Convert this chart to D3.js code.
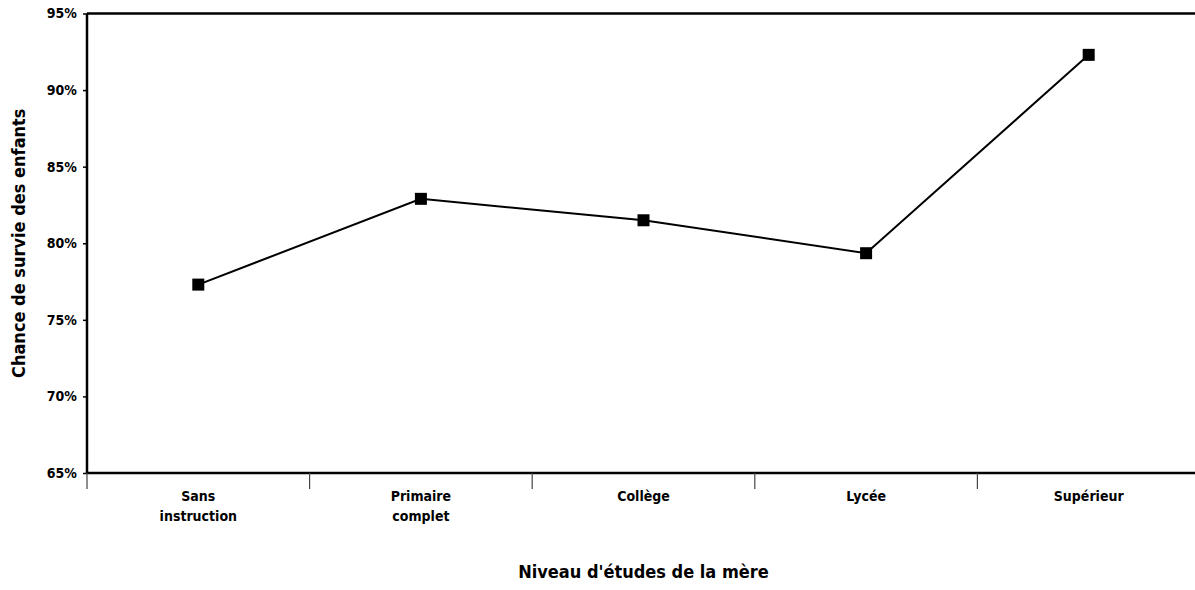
<!DOCTYPE html>
<html>
    <head>
        <meta charset="utf-8">
        <script src="https://d3js.org/d3.v7.min.js"></script>
        <style>
            body { margin: 0; background: #fff; }
            text {
                font-family: "Liberation Sans Narrow", "DejaVu Sans Condensed", "Arial Narrow", sans-serif;
                font-weight: bold;
                fill: #000;
            }
            .tick text { font-size: 14px; }
            .title { font-size: 18px; }
        </style>
    </head>
    <body>
        <svg width="1195" height="590"></svg>
        <script>
            var categories = [["Sans", "instruction"], ["Primaire", "complet"], ["Collège"], ["Lycée"], ["Supérieur"]];
            var survie = [77.3, 82.9, 81.5, 79.35, 92.3];
            var yTicks = [65, 70, 75, 80, 85, 90, 95];

            var svg = d3.select("svg");
            var mLeft = 87, mRight = 1200, mTop = 13.5, mBottom = 473;

            var x = d3.scaleBand()
                .domain(d3.range(categories.length))
                .range([mLeft, mRight]);

            var y = d3.scaleLinear()
                .domain([65, 95])
                .range([mBottom, mTop]);

            // top line of the frame
            svg.append("line")
                .attr("x1", mLeft).attr("x2", mRight)
                .attr("y1", mTop).attr("y2", mTop)
                .attr("stroke", "#000").attr("stroke-width", 2.5);

            // y axis
            var yAxis = svg.append("g")
                .attr("transform", "translate(" + mLeft + ",0)")
                .call(d3.axisLeft(y).tickValues(yTicks).tickSize(4).tickPadding(6)
                    .tickFormat(function(d) { return d + "%"; }));
            yAxis.select(".domain").attr("stroke-width", 2.5).attr("d", "M0," + mTop + "V" + mBottom);
            yAxis.selectAll(".tick line").attr("stroke-width", 1.5);

            // x axis
            var xAxis = svg.append("g")
                .attr("transform", "translate(0," + mBottom + ")");
            xAxis.append("line")
                .attr("x1", mLeft).attr("x2", mRight)
                .attr("stroke", "#000").attr("stroke-width", 2.5);
            xAxis.selectAll(".xt")
                .data(d3.range(categories.length))
                .enter().append("line")
                .attr("x1", function(d) { return x(d); })
                .attr("x2", function(d) { return x(d); })
                .attr("y1", 0).attr("y2", 16)
                .attr("stroke", "#444").attr("stroke-width", 1.2);

            var lbl = xAxis.selectAll(".lbl")
                .data(categories)
                .enter().append("text")
                .attr("class", "lbl")
                .attr("text-anchor", "middle")
                .style("font-size", "14px")
                .attr("transform", function(d, i) { return "translate(" + (x(i) + x.bandwidth() / 2) + ",28)"; });
            lbl.selectAll("tspan")
                .data(function(d) { return d; })
                .enter().append("tspan")
                .attr("x", 0)
                .attr("dy", function(d, i) { return i ? 20 : 0; })
                .text(function(d) { return d; });

            // line + markers
            var line = d3.line()
                .x(function(d, i) { return x(i) + x.bandwidth() / 2; })
                .y(function(d) { return y(d); });

            svg.append("path")
                .datum(survie)
                .attr("d", line)
                .attr("fill", "none")
                .attr("stroke", "#000")
                .attr("stroke-width", 2);

            svg.selectAll(".pt")
                .data(survie)
                .enter().append("rect")
                .attr("x", function(d, i) { return x(i) + x.bandwidth() / 2 - 6; })
                .attr("y", function(d) { return y(d) - 6; })
                .attr("width", 12).attr("height", 12)
                .attr("fill", "#000");

            // titles
            svg.append("text")
                .attr("class", "title")
                .attr("text-anchor", "middle")
                .attr("x", (mLeft + mRight) / 2)
                .attr("y", 578)
                .text("Niveau d'études de la mère");

            svg.append("text")
                .attr("class", "title")
                .attr("text-anchor", "middle")
                .attr("transform", "translate(25," + (mTop + mBottom) / 2 + ") rotate(-90)")
                .text("Chance de survie des enfants");
        </script>
    </body>
</html>
